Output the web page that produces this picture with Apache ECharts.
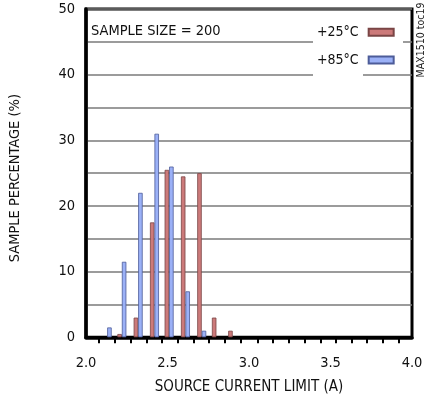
<!DOCTYPE html>
<html>
<head>
<meta charset="utf-8">
<script src="https://cdn.jsdelivr.net/npm/echarts@6/dist/echarts.min.js"></script>
<style>
html,body{margin:0;padding:0;background:#fff;}
#chart{width:427px;height:402px;}
</style>
</head>
<body>
<div id="chart"></div>
<script>
// Bin positions (source current limit, A)
const categories = [2.13, 2.22, 2.32, 2.42, 2.51, 2.61, 2.71, 2.80, 2.90];
// Sample percentage (%) per bin
const temp25 = [0, 0.5, 3, 17.5, 25.5, 24.5, 25, 3, 1];
const temp85 = [1.5, 11.5, 22, 31, 26, 7, 1, 0, 0];
const seriesNames = ['+25°C', '+85°C'];
const xTickLabels = [2.0, 2.5, 3.0, 3.5, 4.0];
const xTickMarks = [2.08, 2.177, 2.274, 2.37, 2.465, 2.563, 2.659, 2.756, 2.852, 2.949,
                    3.053, 3.148, 3.246, 3.341, 3.439, 3.535, 3.633, 3.724, 3.819, 3.917];
const yTickLabels = [0, 10, 20, 30, 40, 50];

const FONT = "'DejaVu Sans Condensed', 'DejaVu Sans', sans-serif";
const toPairs = arr => categories.map((x, i) => arr[i] > 0 ? [x, arr[i]] : [x, '-']);

const chart = echarts.init(document.getElementById('chart'), null, {renderer: 'canvas'});
chart.setOption({
  animation: false,
  backgroundColor: '#fff',
  textStyle: {fontFamily: FONT, color: '#111'},
  title: {
    text: 'SAMPLE SIZE = 200',
    left: 91, top: 24, padding: 0,
    textStyle: {fontFamily: FONT, fontSize: 14.5, fontWeight: 'normal', color: '#111'}
  },
  legend: [
    {
      data: [seriesNames[0]], left: 317, top: 25.3, padding: 0,
      align: 'right', itemWidth: 25, itemHeight: 7, icon: 'rect',
      textStyle: {fontFamily: FONT, fontSize: 14, color: '#111', padding: [0, 5, 0, 0]}
    },
    {
      data: [seriesNames[1]], left: 317, top: 53, padding: 0,
      align: 'right', itemWidth: 25, itemHeight: 7, icon: 'rect',
      textStyle: {fontFamily: FONT, fontSize: 14, color: '#111', padding: [0, 5, 0, 0]}
    }
  ],
  grid: {
    left: 84.5, right: 15, top: 9, bottom: 64.7,
    show: true, borderColor: '#000', borderWidth: 3, containLabel: false
  },
  xAxis: {
    type: 'value', min: 2, max: 4, interval: 0.5,
    name: 'SOURCE CURRENT LIMIT (A)', nameLocation: 'middle', nameGap: 42.5,
    nameTextStyle: {fontFamily: FONT, fontSize: 15, color: '#111'},
    axisLine: {show: true, lineStyle: {color: '#000', width: 3.5}},
    axisTick: {show: true, customValues: xTickMarks, length: 6, lineStyle: {color: '#000', width: 2}},
    axisLabel: {customValues: xTickLabels, margin: 18.5, fontFamily: FONT, fontSize: 14.5, color: '#111',
                formatter: v => Number(v).toFixed(1)},
    splitLine: {show: false}
  },
  yAxis: {
    type: 'value', min: 0, max: 50, interval: 5,
    name: 'SAMPLE PERCENTAGE (%)', nameLocation: 'middle', nameGap: 63, nameRotate: 90,
    nameTextStyle: {fontFamily: FONT, fontSize: 14.5, color: '#111', padding: [0, 10, 0, 0]},
    axisLine: {show: true, lineStyle: {color: '#000', width: 3.5}},
    axisTick: {show: false},
    axisLabel: {customValues: yTickLabels, margin: 11, fontFamily: FONT, fontSize: 14.5, color: '#111'},
    splitLine: {show: true, lineStyle: {color: '#7a7a7a', width: 1.5}}
  },
  graphic: [
    {type: 'rect', z: 3, shape: {x: 313, y: 38.5, width: 90, height: 5.5}, style: {fill: '#fff'}},
    {type: 'rect', z: 3, shape: {x: 313, y: 71.5, width: 50, height: 5.5}, style: {fill: '#fff'}},
    {type: 'text', z: 5, x: 421, y: 40, rotation: Math.PI / 2,
     style: {text: 'MAX1510 toc19', align: 'center', verticalAlign: 'middle',
             font: "10.5px " + FONT, fill: '#222'}}
  ],
  series: [
    {
      name: seriesNames[0], type: 'bar', data: toPairs(temp25),
      barWidth: 4.5, barGap: '0%',
      itemStyle: {color: '#cc7a7a', borderColor: '#7a4545', borderWidth: 0.8}
    },
    {
      name: seriesNames[1], type: 'bar', data: toPairs(temp85),
      barWidth: 4.5, barGap: '0%',
      itemStyle: {color: '#9bb1f7', borderColor: '#4d5c99', borderWidth: 0.8}
    }
  ]
});
</script>
</body>
</html>
